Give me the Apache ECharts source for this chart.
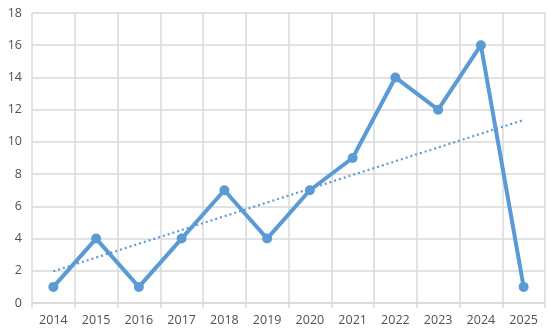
<!DOCTYPE html>
<html><head><meta charset="utf-8">
<script src="https://cdn.jsdelivr.net/npm/echarts@6/dist/echarts.min.js"></script>
<style>html,body{margin:0;padding:0;background:#fff}#c{width:550px;height:332px}</style>
</head><body><div id="c"></div>
<script>
const years = ['2014','2015','2016','2017','2018','2019','2020','2021','2022','2023','2024','2025'];
const values = [1,4,1,4,7,4,7,9,14,12,16,1];
const trendEnds = [1.97, 11.36];
const yTicks = {min:0, max:18, interval:2};

const trend = years.map((y,i)=> i===0 ? trendEnds[0] : (i===years.length-1 ? trendEnds[1] : null));

const chart = echarts.init(document.getElementById('c'), null, {renderer:'canvas'});
chart.setOption({
  animation:false,
  grid:{left:32, right:5, top:13, bottom:29, containLabel:false},
  xAxis:{
    type:'category', data:years, boundaryGap:true,
    axisLine:{lineStyle:{color:'#d9d9d9', width:1.5}},
    axisTick:{show:true, length:5, lineStyle:{color:'#d9d9d9', width:1.5}},
    splitLine:{show:true, lineStyle:{color:'#d9d9d9', width:1.5}},
    axisLabel:{color:'#505050', fontSize:12.5, fontFamily:'Open Sans', margin:11}
  },
  yAxis:{
    type:'value', min:yTicks.min, max:yTicks.max, interval:yTicks.interval,
    axisLine:{show:false}, axisTick:{show:false},
    splitLine:{lineStyle:{color:'#d9d9d9', width:1.5}},
    axisLabel:{color:'#505050', fontSize:12.5, fontFamily:'Open Sans', margin:10}
  },
  series:[
    {type:'line', data:trend, connectNulls:true, symbol:'none',
     lineStyle:{color:'#5b9bd5', width:2.2, type:[2,3]}, z:3},
    {type:'line', data:values, symbol:'circle', symbolSize:10,
     itemStyle:{color:'#5b9bd5'},
     lineStyle:{color:'#5b9bd5', width:4}, z:4}
  ]
});
</script></body></html>
